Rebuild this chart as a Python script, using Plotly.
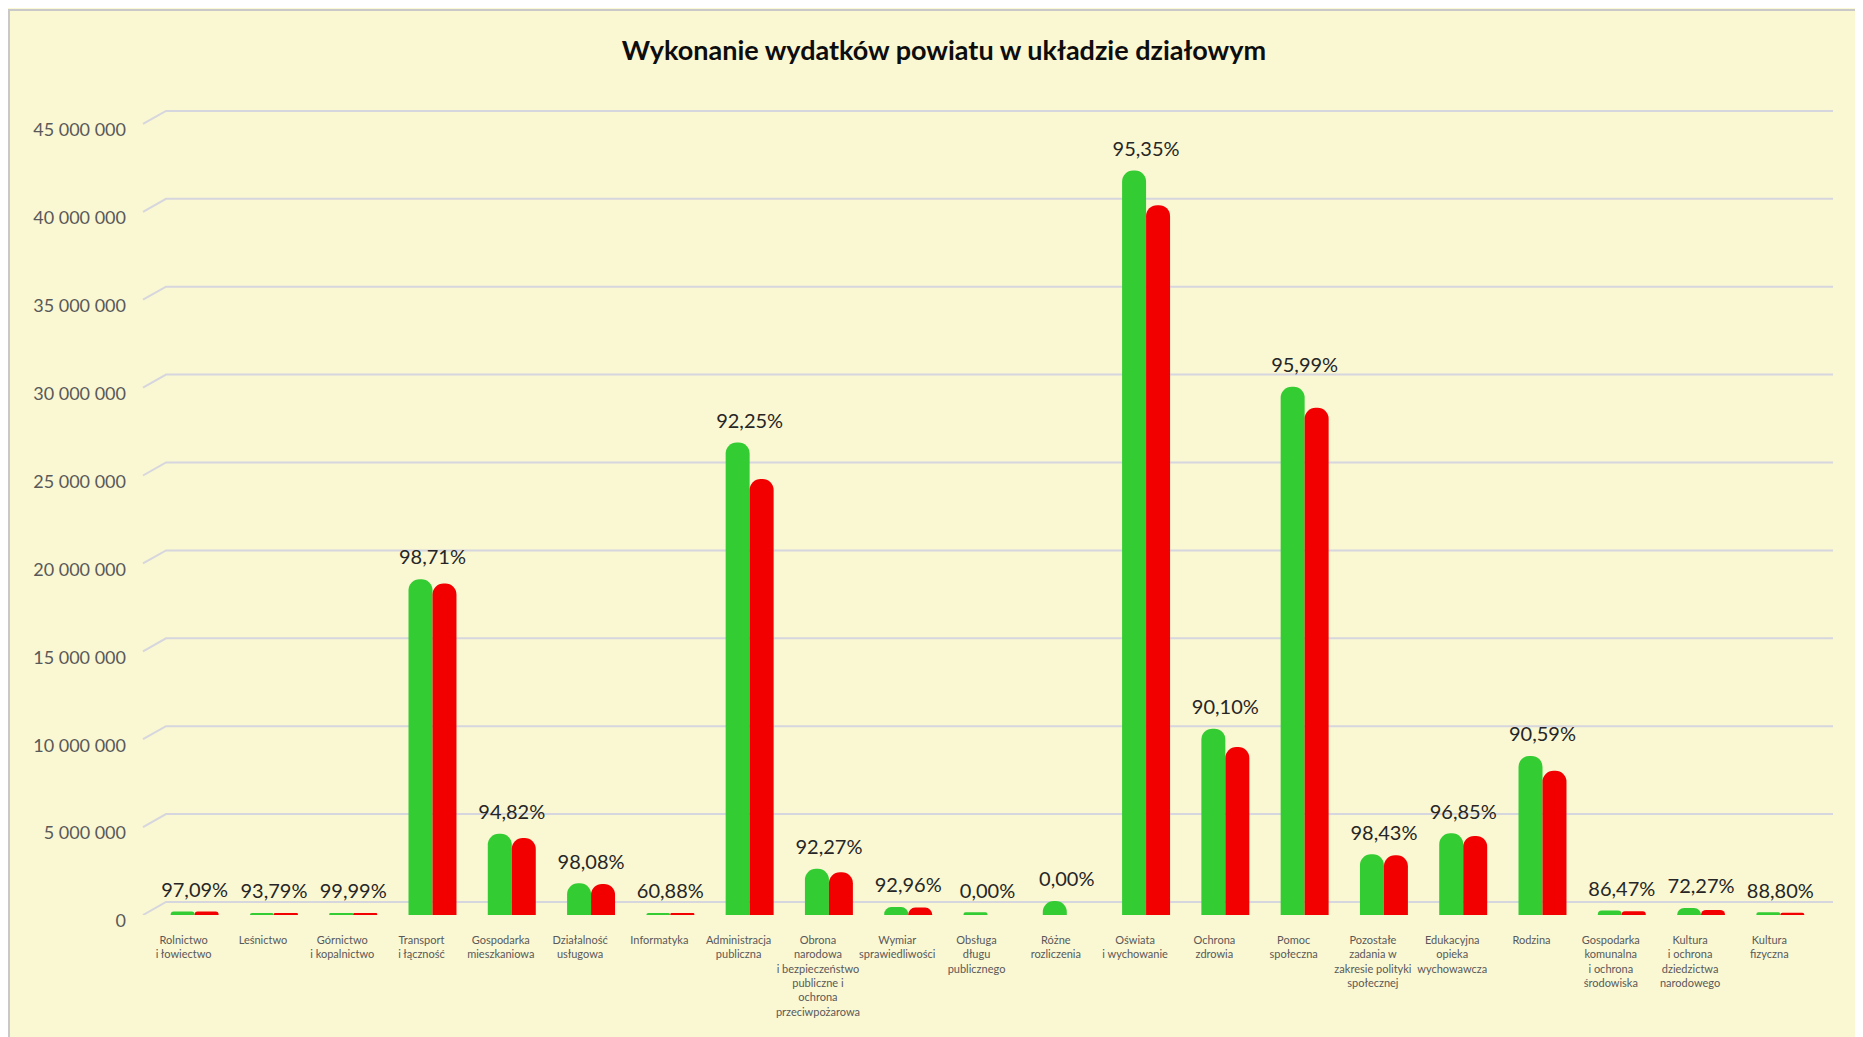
import plotly.graph_objects as go

# ---------------- data ----------------
categories = [
    "Rolnictwo i łowiectwo", "Leśnictwo", "Górnictwo i kopalnictwo", "Transport i łączność",
    "Gospodarka mieszkaniowa", "Działalność usługowa", "Informatyka", "Administracja publiczna",
    "Obrona narodowa i bezpieczeństwo publiczne i ochrona przeciwpożarowa", "Wymiar sprawiedliwości",
    "Obsługa długu publicznego", "Różne rozliczenia", "Oświata i wychowanie", "Ochrona zdrowia",
    "Pomoc społeczna", "Pozostałe zadania w zakresie polityki społecznej",
    "Edukacyjna opieka wychowawcza", "Rodzina", "Gospodarka komunalna i ochrona środowiska",
    "Kultura i ochrona dziedzictwa narodowego", "Kultura fizyczna",
]
tick_labels = [
    "Rolnictwo<br>i łowiectwo", "Leśnictwo", "Górnictwo<br>i kopalnictwo", "Transport<br>i łączność",
    "Gospodarka<br>mieszkaniowa", "Działalność<br>usługowa", "Informatyka", "Administracja<br>publiczna",
    "Obrona<br>narodowa<br>i bezpieczeństwo<br>publiczne i<br>ochrona<br>przeciwpożarowa",
    "Wymiar<br>sprawiedliwości", "Obsługa<br>długu<br>publicznego", "Różne<br>rozliczenia",
    "Oświata<br>i wychowanie", "Ochrona<br>zdrowia", "Pomoc<br>społeczna",
    "Pozostałe<br>zadania w<br>zakresie polityki<br>społecznej", "Edukacyjna<br>opieka<br>wychowawcza",
    "Rodzina", "Gospodarka<br>komunalna<br>i ochrona<br>środowiska",
    "Kultura<br>i ochrona<br>dziedzictwa<br>narodowego", "Kultura<br>fizyczna",
]
plan = [200000, 120000, 100000, 19100000, 4620000, 1800000, 120000, 26880000, 2630000, 450000,
        150000, 800000, 42350000, 10600000, 30050000, 3450000, 4650000, 9050000, 250000, 400000, 150000]
wykonanie = [194000, 113000, 100000, 18850000, 4380000, 1770000, 73000, 24800000, 2430000, 420000,
             0, 0, 40380000, 9550000, 28850000, 3400000, 4500000, 8200000, 216000, 290000, 133000]
percent_labels = ["97,09%", "93,79%", "99,99%", "98,71%", "94,82%", "98,08%", "60,88%", "92,25%",
                  "92,27%", "92,96%", "0,00%", "0,00%", "95,35%", "90,10%", "95,99%", "98,43%",
                  "96,85%", "90,59%", "86,47%", "72,27%", "88,80%"]
y_ticks = [0, 5000000, 10000000, 15000000, 20000000, 25000000, 30000000, 35000000, 40000000, 45000000]

# ---------------- layout geometry (figure px; page adds 8px body margin) ----------------
W, H = 1863, 1037
ML, MR, MT, MB = 135, 38, 92, 130
PLOT_W = W - ML - MR
PLOT_H = H - MT - MB
Y_MAX = 46.36e6
px_per_unit = PLOT_H / Y_MAX
grid_off = 13 / px_per_unit          # back-wall offset of gridlines (3D look)
diag_end = 23 / PLOT_W               # paper x where diagonal reaches the wall

BG = "#FAF7D3"
GREEN = "#33CC33"
RED = "#F20000"
FONT = "Lato"

fig = go.Figure()
fig.add_trace(go.Bar(x=categories, y=plan, name="Plan",
                     marker=dict(color=GREEN, cornerradius="50%", line=dict(width=0))))
fig.add_trace(go.Bar(x=categories, y=wykonanie, name="Wykonanie",
                     marker=dict(color=RED, cornerradius="50%", line=dict(width=0))))
tops = [max(a, b) for a, b in zip(plan, wykonanie)]
fig.add_trace(go.Scatter(x=categories, y=tops, mode="markers+text", text=percent_labels,
                         textposition="top center", marker=dict(size=14, opacity=0),
                         textfont=dict(family=FONT, size=20, color="#262626"),
                         hoverinfo="skip", showlegend=False))

shapes = [dict(type="rect", xref="paper", yref="paper", layer="below",
               x0=(1 - ML) / PLOT_W, x1=(W + 20 - ML) / PLOT_W,
               y0=-(MB + 20) / PLOT_H, y1=(H - MB - 2) / PLOT_H,
               fillcolor=BG, line=dict(color="#C9C9C9", width=2))]
for v in y_ticks:
    path = "M 0,{a} L {d},{b} L 1,{b}".format(a=v, b=v + grid_off, d=diag_end)
    shapes.append(dict(type="path", xref="paper", yref="y", path=path, layer="below",
                       line=dict(color="#D6D6DE", width=2)))

fig.update_layout(
    width=W, height=H,
    margin=dict(l=ML, r=MR, t=MT, b=MB, pad=0, autoexpand=False),
    paper_bgcolor=BG, plot_bgcolor="rgba(0,0,0,0)",
    barmode="group", bargap=0.395, bargroupgap=0,
    showlegend=False, separators=", ",
    shapes=shapes,
    title=dict(text="<b>Wykonanie wydatków powiatu w układzie działowym</b>",
               x=936 / W, xref="container", xanchor="center",
               y=1 - 43 / H, yref="container", yanchor="middle",
               font=dict(family=FONT, size=27, color="#0D0D0D")),
    xaxis=dict(type="category", tickvals=categories, ticktext=tick_labels,
               range=[-0.5 - 12 / 79.3, 20.5 + 13 / 79.3], automargin=False,
               showgrid=False, zeroline=False, showline=False, ticks="",
               ticklabelstandoff=17, ticklabelshift=-11, tickangle=0,
               tickfont=dict(family=FONT, size=11, color="#595959")),
    yaxis=dict(range=[0, Y_MAX], tickvals=y_ticks, tickformat=",.0f", automargin=False,
               showgrid=False, zeroline=False, showline=False, ticks="",
               ticklabelstandoff=16, ticklabelshift=6,
               tickfont=dict(family=FONT, size=18, color="#595959")),
)

fig.write_html("out.html")
